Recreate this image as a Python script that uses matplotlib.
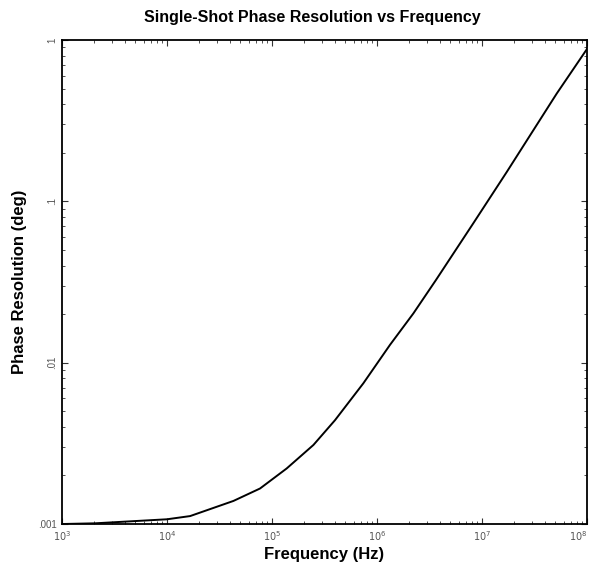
import numpy as np
from matplotlib import pyplot as plt
from matplotlib.ticker import LogLocator, NullFormatter

# curve values (Hz, deg)
freq = [1e3, 2.06e3, 1e4, 1.66e4, 4.29e4, 7.69e4, 1.38e5, 2.48e5, 3.98e5,
        7.41e5, 1.33e6, 2.22e6, 3.65e6, 8.26e6, 1.72e7, 2.47e7, 5.14e7, 1e8]
phase = [1.0e-3, 1.01e-3, 1.07e-3, 1.12e-3, 1.39e-3, 1.66e-3, 2.21e-3, 3.09e-3, 4.4e-3,
         7.45e-3, 0.0129, 0.0202, 0.0326, 0.0731, 0.152, 0.22, 0.465, 0.88]

xticks = [1e3, 1e4, 1e5, 1e6, 1e7, 1e8]
xlabels = ['$10^{3}$', '$10^{4}$', '$10^{5}$', '$10^{6}$', '$10^{7}$', '$10^{8}$']
yticks = [1e-3, 1e-2, 1e-1, 1]
ylabels = ['.001', '.01', '.1', '1']

plt.rcParams['font.family'] = ['Liberation Sans', 'DejaVu Sans']

fig = plt.figure(figsize=(5.92, 5.67), dpi=100)
ax = fig.add_axes([0.1047, 0.0758, 0.8869, 0.8537])

ax.plot(freq, phase, color='black', linewidth=1.4, solid_joinstyle='round')

ax.set_xscale('log')
ax.set_yscale('log')
ax.set_xlim(1e3, 1e8)
ax.set_ylim(1e-3, 1)

ax.set_xticks(xticks)
ax.set_xticklabels(xlabels)
ax.set_yticks(yticks)
ax.set_yticklabels(ylabels)
ax.xaxis.set_minor_locator(LogLocator(base=10, subs=np.arange(2, 10)))
ax.yaxis.set_minor_locator(LogLocator(base=10, subs=np.arange(2, 10)))
ax.xaxis.set_minor_formatter(NullFormatter())
ax.yaxis.set_minor_formatter(NullFormatter())

ax.tick_params(which='both', direction='in', top=True, right=True,
               labelsize=7, labelcolor='#555555', colors='#333333')
ax.tick_params(which='major', length=4)
ax.tick_params(which='minor', length=2)
for lbl in ax.get_yticklabels()[1:]:
    lbl.set_rotation(90)
    lbl.set_va('center')
ax.get_xticklabels()[-1].set_ha('right')

for s in ax.spines.values():
    s.set_linewidth(1.3)

ax.set_title('Single-Shot Phase Resolution vs Frequency', fontsize=11.5,
             fontweight='bold', pad=13, x=0.476)
ax.set_xlabel('Frequency (Hz)', fontsize=12, fontweight='bold', labelpad=3)
ax.set_ylabel('Phase Resolution (deg)', fontsize=12, fontweight='bold', labelpad=8)

fig.savefig('out.png', dpi=100)
